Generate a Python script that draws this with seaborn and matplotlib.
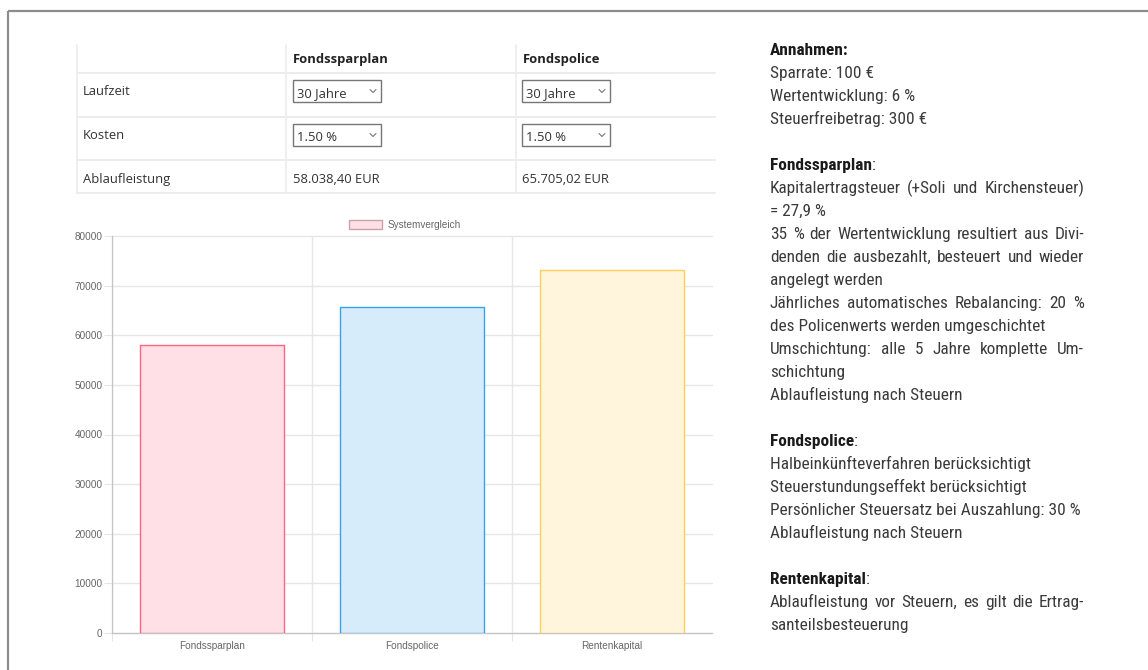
import matplotlib
matplotlib.use("Agg")
import matplotlib.pyplot as plt
from matplotlib.patches import Patch, Rectangle
import numpy as np
import pandas as pd
import seaborn as sns

# chart data
categories = ["Fondssparplan", "Fondspolice", "Rentenkapital"]
values = [58038.40, 65705.02, 73230.0]
y_ticks = [0, 10000, 20000, 30000, 40000, 50000, 60000, 70000, 80000]
legend_label = "Systemvergleich"

fill_colors = ["#ffe0e6", "#d7ecfb", "#fff5dd"]
edge_colors = ["#ff6384", "#36a2eb", "#ffce56"]

# table data
table_columns = ["Fondssparplan", "Fondspolice"]
table_rows = ["Laufzeit", "Kosten", "Ablaufleistung"]
laufzeit = ["30 Jahre", "30 Jahre"]
kosten = ["1.50 %", "1.50 %"]
ablaufleistung = ["58.038,40 EUR", "65.705,02 EUR"]

# side notes: (style, text)
notes = [
    ("bold", "Annahmen:"),
    ("plain", "Sparrate: 100 €"),
    ("plain", "Wertentwicklung: 6 %"),
    ("plain", "Steuerfreibetrag: 300 €"),
    ("blank", ""),
    ("head", "Fondssparplan"),
    ("just", "Kapitalertragsteuer (+Soli und Kirchensteuer)"),
    ("plain", "= 27,9 %"),
    ("just", "35 % der Wertentwicklung resultiert aus Divi-"),
    ("just", "denden die ausbezahlt, besteuert und wieder"),
    ("plain", "angelegt werden"),
    ("just", "Jährliches automatisches Rebalancing: 20 %"),
    ("plain", "des Policenwerts werden umgeschichtet"),
    ("just", "Umschichtung: alle 5 Jahre komplette Um-"),
    ("plain", "schichtung"),
    ("plain", "Ablaufleistung nach Steuern"),
    ("blank", ""),
    ("head", "Fondspolice"),
    ("plain", "Halbeinkünfteverfahren berücksichtigt"),
    ("plain", "Steuerstundungseffekt berücksichtigt"),
    ("plain", "Persönlicher Steuersatz bei Auszahlung: 30 %"),
    ("plain", "Ablaufleistung nach Steuern"),
    ("blank", ""),
    ("head", "Rentenkapital"),
    ("just", "Ablaufleistung vor Steuern, es gilt die Ertrag-"),
    ("plain", "santeilsbesteuerung"),
]

sns.set_theme(style="white")
plt.rcParams["font.family"] = ["Liberation Sans", "DejaVu Sans"]

W, H = 1148, 670
fig = plt.figure(figsize=(W / 100, H / 100), dpi=100)
fig.patch.set_facecolor("white")

# full-figure overlay in pixel coordinates (y grows downward)
over = fig.add_axes([0, 0, 1, 1])
over.set_xlim(0, W)
over.set_ylim(H, 0)
over.axis("off")

# page frame
over.plot([8, W], [11, 11], color="#8c8c8c", lw=1.6, solid_capstyle="butt")
over.plot([8, 8], [11, H], color="#8c8c8c", lw=1.6, solid_capstyle="butt")

# ---- table ----
tab_font = ["Open Sans", "DejaVu Sans"]
line_c = "#ececec"
tab_left, col1, col2, tab_right = 77, 286, 516, 715
row_lines = [73, 117, 160, 193]
for y in row_lines:
    over.plot([tab_left, tab_right], [y, y], color=line_c, lw=1.4)
for x in [tab_left, col1, col2]:
    over.plot([x, x], [45, 193], color=line_c, lw=1.2)

for x, name in zip([col1 + 7, col2 + 7], table_columns):
    over.text(x, 63, name, family=tab_font, fontsize=9.4, fontweight="bold",
              color="#222222", va="baseline")
for y, name in zip([95, 139, 183], table_rows):
    over.text(83, y, name, family=tab_font, fontsize=9.4, color="#333333", va="baseline")


def dropdown(x, top, label):
    over.add_patch(Rectangle((x, top), 88, 22, facecolor="white",
                             edgecolor="#767676", lw=1.0))
    over.text(x + 4, top + 17, label, family=tab_font, fontsize=9.4,
              color="#333333", va="baseline")
    cx, cy = x + 80, top + 11
    over.plot([cx - 3, cx, cx + 3], [cy - 1.5, cy + 1.5, cy - 1.5],
              color="#777777", lw=0.8)


for x, lz, ko, ab in zip([col1 + 7, col2 + 6], laufzeit, kosten, ablaufleistung):
    dropdown(x, 80, lz)
    dropdown(x, 124, ko)
    over.text(x, 183, ab, family=tab_font, fontsize=9.4, color="#333333", va="baseline")

# ---- side notes ----
note_font = ["Roboto Condensed", "Liberation Sans Narrow", "Roboto", "DejaVu Sans"]
note_size = 12.4
x0, x1 = 770, 1084
renderer = fig.canvas.get_renderer()


def note(x, y, s, bold=False):
    return over.text(x, y, s, family=note_font, fontsize=note_size,
                     fontweight="bold" if bold else "normal",
                     color="#1a1a1a" if bold else "#3a3a3a", va="baseline")


for i, (style, text) in enumerate(notes):
    y = 55 + 23 * i
    if style == "blank":
        continue
    if style == "bold":
        note(x0, y, text, bold=True)
    elif style == "head":
        t = note(x0, y, text, bold=True)
        w = t.get_window_extent(renderer).width
        note(x0 + w, y, ":")
    elif style == "just":
        words = text.split(" ")
        ts = [note(0, y, wd) for wd in words]
        widths = [t.get_window_extent(renderer).width for t in ts]
        gap = max((x1 - x0 - sum(widths)) / (len(words) - 1), 3.0)
        x = x0
        for t, w in zip(ts, widths):
            t.set_x(x)
            x += w + gap
    else:
        note(x0, y, text)

# ---- bar chart ----
ax_l, ax_r, ax_t, ax_b = 112, 712, 236, 633
ax = fig.add_axes([ax_l / W, (H - ax_b) / H, (ax_r - ax_l) / W, (ax_b - ax_t) / H])
ax.set_facecolor("none")

df = pd.DataFrame({"kategorie": categories, "wert": values})
sns.barplot(data=df, x="kategorie", y="wert", hue="kategorie",
            palette=dict(zip(categories, fill_colors)), width=0.72,
            saturation=1, dodge=False, legend=False, ax=ax, zorder=3)
for bar, ec in zip(ax.patches, edge_colors):
    bar.set_edgecolor(ec)
    bar.set_linewidth(1.0)

grid_c = "#e6e6e6"
ax.set_xlim(-0.5, 2.5)
ax.set_ylim(0, 80000)
ax.set_yticks(y_ticks)
ax.set_yticklabels([str(v) for v in y_ticks])
ax.set_xticks(range(len(categories)))
ax.set_xticklabels(categories)
ax.set_xticks([-0.5, 0.5, 1.5], minor=True)
ax.set_xlabel("")
ax.set_ylabel("")
ax.grid(axis="y", which="major", color=grid_c, lw=1.0, zorder=0)
ax.grid(axis="x", which="minor", color=grid_c, lw=1.0, zorder=0)
ax.grid(axis="x", which="major", visible=False)
for gl in ax.get_ygridlines():
    gl.set_clip_on(False)

ax.tick_params(axis="y", which="major", length=5.8, width=0.8, color=grid_c,
               pad=1, labelsize=7.2, labelcolor="#666666", left=True)
ax.tick_params(axis="x", which="major", length=0, pad=6, labelsize=7.2,
               labelcolor="#666666")
ax.tick_params(axis="x", which="minor", length=5.5, width=0.8, color=grid_c,
               bottom=True)
for lab in ax.get_xticklabels() + ax.get_yticklabels():
    lab.set_family(["Liberation Sans", "DejaVu Sans"])

for side in ["top", "right"]:
    ax.spines[side].set_visible(False)
for side in ["left", "bottom"]:
    ax.spines[side].set_color("#c4c4c4")
    ax.spines[side].set_linewidth(0.9)

handle = Patch(facecolor=fill_colors[0], edgecolor="#c8a2aa", lw=1.0)
ax.legend([handle], [legend_label], loc="lower center",
          bbox_to_anchor=((405 - ax_l) / (ax_r - ax_l), 1.01), frameon=False,
          handlelength=3.3, handleheight=1.0, handletextpad=0.5,
          prop={"family": ["Liberation Sans", "DejaVu Sans"], "size": 7.2},
          labelcolor="#666666", borderaxespad=0, borderpad=0.2)

fig.savefig("out.png", dpi=100)
